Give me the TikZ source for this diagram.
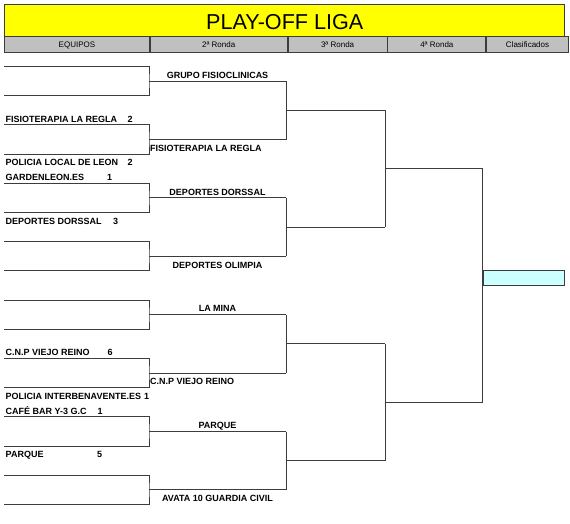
\documentclass[tikz,border=0pt]{standalone}
\usepackage{fontspec}
\setmainfont{Liberation Sans}
\usepackage{tikz}
\usetikzlibrary{calc,positioning}
\definecolor{ink}{HTML}{3C3C3C}
\definecolor{bannerfill}{HTML}{FFFF00}
\definecolor{headgray}{HTML}{C0C0C0}
\definecolor{champfill}{HTML}{CCFFFF}
\tikzset{
  bracket/.style={draw=ink,line width=.9pt},
  banner/.style={draw=ink,fill=bannerfill,line width=.9pt,minimum width=560pt,minimum height=31.7pt,inner sep=0pt,
    text height=18.3pt,text depth=0pt,font=\fontsize{21.6}{24}\selectfont,anchor=north west},
  headcell/.style={draw=ink,fill=headgray,line width=.9pt,minimum height=15.7pt,inner sep=0pt,
    text height=6pt,text depth=0pt,font=\fontsize{8}{9}\selectfont,anchor=north west},
  team/.style={font=\fontsize{9}{10}\selectfont\bfseries,inner sep=0pt,anchor=base west},
  winner/.style={team,anchor=base},
  score/.style={team},
  champbox/.style={draw=ink,fill=champfill,line width=.9pt,minimum width=81.6pt,minimum height=14.6pt,inner sep=0pt,anchor=south west}
}

\begin{document}
\begin{tikzpicture}[x=1pt,y=-1pt]
\useasboundingbox (0,0) rectangle (570,523);
% header
\node[banner] (title) at (4.3,4.3) {PLAY-OFF LIGA};
\node[headcell,minimum width=144.4pt] (h1) at (4.3,36) {EQUIPOS};
\node[headcell,minimum width=137.3pt,right=0pt of h1.north east,anchor=north west] (h2) {2ª Ronda};
\node[headcell,minimum width=98.7pt,right=0pt of h2.north east,anchor=north west] (h3) {3ª Ronda};
\node[headcell,minimum width=98pt,right=0pt of h3.north east,anchor=north west] (h4) {4ª Ronda};
\node[headcell,minimum width=81.6pt,right=0pt of h4.north east,anchor=north west] (h5) {Clasificados};
% first round
\foreach \i in {0,...,7}{
  \coordinate (a\i) at (4.3,{66.5+58.4*\i});
  \coordinate (b\i) at (4.3,{95.7+58.4*\i});
  \coordinate (c\i) at (149,{81.1+58.4*\i});
  \coordinate (w\i) at (286,{81.1+58.4*\i});
  \draw[bracket] (a\i) -| (c\i) |- (b\i);
  \draw[bracket] (c\i) -- (w\i);
}
% second round
\foreach \a/\b/\j in {0/1/0,2/3/1,4/5/2,6/7/3}{
  \draw[bracket] (w\a) -- (w\b);
  \draw[bracket] ($(w\a)!.5!(w\b)$) -- ++(99,0) coordinate (v\j);
}
% third round
\foreach \a/\b/\j in {0/1/0,2/3/1}{
  \draw[bracket] (v\a) -- (v\b);
  \draw[bracket] ($(v\a)!.5!(v\b)$) -- ++(97.7,0) coordinate (u\j);
}
\draw[bracket] (u0) -- (u1);
\node[champbox] (champ) at ($(u0)!.5!(u1)$) {};
% teams and scores
\foreach \r/\t/\s/\x [count=\n] in {
  4/FISIOTERAPIA LA REGLA/2/127.5,
  7/POLICIA LOCAL DE LEON/2/127.5,
  8/GARDENLEON.ES/1/107,
  11/DEPORTES DORSSAL/3/113,
  20/C.N.P VIEJO REINO/6/107.5,
  23/POLICIA INTERBENAVENTE.ES/1/144,
  24/CAFÉ BAR Y-3 G.C/1/97.5,
  27/PARQUE/5/97}{
  \node[team] (team\n) at (5.5,{63.7+14.6*\r}) {\t};
  \node[score] (score\n) at (\x,{63.7+14.6*\r}) {\s};
}
% second round winners
\foreach \r/\t [count=\n] in {1/GRUPO FISIOCLINICAS,9/DEPORTES DORSSAL,14/DEPORTES OLIMPIA,17/LA MINA,25/PARQUE,30/AVATA 10 GUARDIA CIVIL}
  \node[winner] (win\n) at (217.5,{63.7+14.6*\r}) {\t};
\node[team] (win7) at (150,{63.7+14.6*6}) {FISIOTERAPIA LA REGLA};
\node[team] (win8) at (150,{63.7+14.6*22}) {C.N.P VIEJO REINO};
\end{tikzpicture}
\end{document}
